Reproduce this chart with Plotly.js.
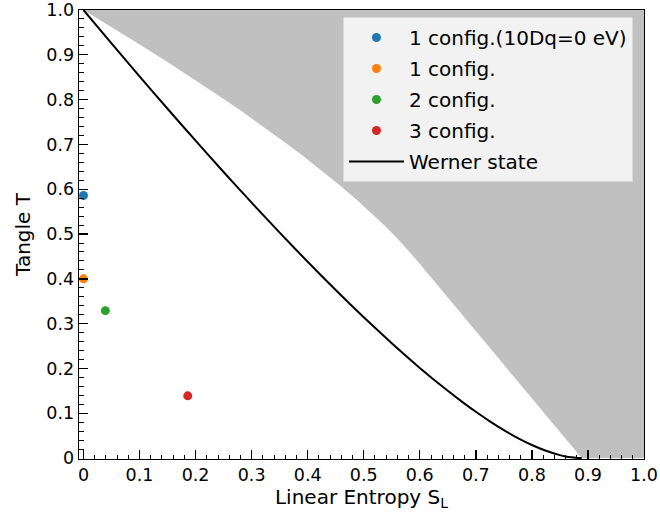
<!DOCTYPE html>
<html>
<head>
<meta charset="utf-8">
<script src="https://cdn.plot.ly/plotly-3.0.1.min.js"></script>
<style>html,body{margin:0;padding:0;background:#fff;}#chart{width:660px;height:515px;}</style>
</head>
<body>
<div id="chart"></div>
<script>
// Data points (Linear entropy S_L, Tangle T)
const seriesNames = ["1 config.(10Dq=0 eV)", "1 config.", "2 config.", "3 config."];
const pointSL = [0.0, 0.0, 0.039, 0.186];
const pointT = [0.586, 0.400, 0.329, 0.139];
const pointColors = ["#1f77b4", "#ff7f0e", "#2ca02c", "#d62728"];

// Werner state curve
const wernerSL = [0, 0.05, 0.10, 0.15, 0.20, 0.25, 0.30, 0.35, 0.40, 0.45, 0.50, 0.55, 0.60, 0.65, 0.675, 0.70, 0.725, 0.75, 0.775, 0.80, 0.825, 0.85, 0.86, 0.87, 0.88, 0.889];
const wernerT  = [1, 0.9255, 0.8520, 0.7796, 0.7084, 0.6385, 0.5700, 0.5032, 0.4381, 0.3751, 0.3143, 0.2563, 0.2013, 0.1501, 0.1261, 0.1034, 0.0821, 0.0625, 0.0447, 0.0292, 0.0163, 0.0066, 0.0038, 0.0017, 0.0004, 0];

// Forbidden (gray) region boundary: upper-left edge, then the corner points
const regionSL = [0, 0.0264, 0.0523, 0.1024, 0.1504, 0.1963, 0.2400, 0.2816, 0.3211, 0.3584, 0.3936, 0.4267, 0.4576, 0.4864, 0.5131, 0.5376, 0.5600, 0.5803, 0.5926, 0.8889, 1.0, 1.0, 0];
const regionT  = [1, 0.9801, 0.9604, 0.9216, 0.8836, 0.8464, 0.8100, 0.7744, 0.7396, 0.7056, 0.6724, 0.6400, 0.6084, 0.5776, 0.5476, 0.5184, 0.4900, 0.4624, 0.4444, 0, 0, 1.0, 1];

// Tick labels
const tickValues = [0, 0.1, 0.2, 0.3, 0.4, 0.5, 0.6, 0.7, 0.8, 0.9, 1.0];
const tickLabels = ["0", "0.1", "0.2", "0.3", "0.4", "0.5", "0.6", "0.7", "0.8", "0.9", "1.0"];

const FONT = "DejaVu Sans, sans-serif";

const traces = [];
traces.push({
  x: regionSL, y: regionT, type: "scatter", mode: "lines",
  fill: "toself", fillcolor: "#c0c0c0", line: {width: 0, color: "#c0c0c0"},
  showlegend: false, hoverinfo: "skip"
});
for (let i = 0; i < seriesNames.length; i++) {
  traces.push({
    x: [pointSL[i]], y: [pointT[i]], type: "scatter", mode: "markers",
    name: seriesNames[i], legendgroup: "g" + i, cliponaxis: false,
    marker: {color: pointColors[i], size: 9}
  });
}
traces.push({
  x: wernerSL, y: wernerT, type: "scatter", mode: "lines",
  name: "Werner state", legendgroup: "gw",
  line: {color: "#000000", width: 2, shape: "spline", smoothing: 0.5}
});

const axisCommon = {
  tickmode: "array", tickvals: tickValues, ticktext: tickLabels,
  ticks: "inside", ticklen: 9, tickwidth: 1.3, tickcolor: "#000",
  showline: true, linecolor: "#000", linewidth: 1.3, mirror: true,
  showgrid: false, zeroline: false, ticklabeloverflow: "allow",
  tickfont: {family: FONT, size: 17.5, color: "#000"},
  minor: {dtick: 0.02, ticks: "inside", ticklen: 4.5, tickwidth: 1, tickcolor: "#000", showgrid: false}
};

const layout = {
  width: 660, height: 515,
  margin: {l: 79, r: 16, t: 10, b: 56},
  paper_bgcolor: "#fff", plot_bgcolor: "#fff",
  font: {family: FONT, size: 20, color: "#000"},
  xaxis: Object.assign({}, axisCommon, {
    range: [-0.008, 1.0],
    title: {text: "Linear Entropy S<sub>L</sub>", font: {family: FONT, size: 20, color: "#000"}, standoff: 5}
  }),
  yaxis: Object.assign({}, axisCommon, {
    range: [-0.002, 1.0],
    title: {text: "Tangle T", font: {family: FONT, size: 20, color: "#000"}, standoff: 10}
  }),
  legend: {
    x: 0.9805, xanchor: "right", y: 0.9844, yanchor: "top",
    bgcolor: "#f2f2f2", bordercolor: "#d9d9d9", borderwidth: 1,
    font: {family: FONT, size: 20, color: "#000"},
    traceorder: "grouped", tracegroupgap: 2, itemwidth: 55
  },
  showlegend: true
};

Plotly.newPlot("chart", traces, layout, {displayModeBar: false, staticPlot: true});
</script>
</body>
</html>
